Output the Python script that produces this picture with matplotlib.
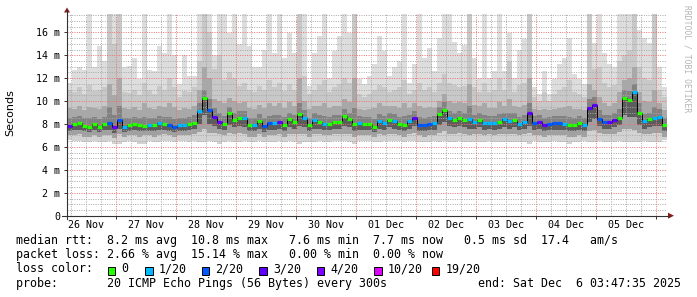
import numpy as np
import matplotlib
matplotlib.use("Agg")
import matplotlib.pyplot as plt
import matplotlib.transforms as mtransforms
from matplotlib.ticker import MultipleLocator, FuncFormatter, NullFormatter
from matplotlib.patches import Rectangle, Polygon
from matplotlib.lines import Line2D

plt.rcParams['font.family'] = ['DejaVu Sans Mono']

############################### Data (ms) #####################################

# 120 columns of 2 hours, first one starting 26 Nov 04:30
col_start, col_hours = 4.5, 2.0

median = [7.83, 7.97, 8.06, 7.83, 7.74, 7.97, 7.74, 7.97, 8.12, 7.77, 8.35, 7.77,
          7.88, 8.03, 7.94, 7.83, 7.88, 7.88, 8.12, 8.03, 7.88, 7.77, 7.91, 7.91,
          7.97, 8.12, 9.10, 10.30, 9.20, 8.64, 8.17, 7.97, 8.99, 8.35, 8.49, 8.49,
          7.88, 7.88, 8.26, 7.83, 8.06, 8.12, 8.17, 7.94, 8.41, 8.17, 8.84, 8.55,
          7.88, 8.35, 8.17, 8.00, 8.00, 8.17, 8.17, 8.70, 8.41, 7.97, 8.06, 7.97,
          7.97, 7.77, 8.26, 8.06, 8.35, 8.26, 7.97, 7.94, 8.23, 8.49, 7.91, 7.88,
          7.97, 8.06, 8.84, 9.22, 8.49, 8.35, 8.49, 8.35, 8.41, 8.17, 8.35, 8.06,
          8.12, 8.06, 8.17, 8.41, 8.29, 8.35, 7.97, 8.17, 8.99, 8.06, 8.17, 7.91,
          8.00, 8.06, 8.06, 8.03, 7.94, 7.88, 8.06, 7.88, 9.42, 9.68, 8.41, 8.17,
          8.17, 8.35, 8.52, 10.26, 10.09, 10.78, 8.99, 8.26, 8.41, 8.55, 8.64, 7.88]

# index into loss_labels
loss = [3, 0, 0, 0, 0, 0, 0, 0, 2, 3, 2, 1,
        0, 0, 0, 0, 1, 0, 1, 0, 2, 2, 1, 1,
        0, 0, 1, 0, 2, 3, 3, 0, 0, 0, 0, 1,
        0, 1, 0, 2, 2, 1, 3, 0, 0, 0, 0, 1,
        0, 1, 0, 1, 0, 0, 0, 0, 0, 0, 1, 0,
        0, 0, 1, 1, 0, 1, 0, 0, 1, 3, 2, 2,
        2, 1, 0, 0, 1, 0, 0, 0, 1, 1, 0, 1,
        1, 1, 0, 1, 1, 0, 1, 1, 3, 2, 3, 3,
        2, 2, 2, 1, 0, 0, 0, 1, 3, 3, 2, 2,
        3, 3, 0, 0, 0, 1, 0, 1, 0, 1, 1, 0]

ping_max = [11.6, 12.75, 13.0, 12.75, 17.6, 13.0, 14.8, 13.5, 17.6, 17.6, 17.6, 13.0,
            13.1, 13.8, 11.9, 17.6, 12.75, 12.6, 14.8, 14.2, 17.6, 14.0, 11.45, 14.0,
            12.2, 12.2, 17.6, 17.6, 17.6, 14.0, 17.6, 17.6, 15.9, 17.6, 15.0, 17.6,
            14.8, 13.0, 13.0, 14.5, 17.6, 14.2, 17.6, 13.8, 15.9, 14.2, 17.6, 17.6,
            11.3, 14.2, 15.65, 17.6, 12.0, 14.35, 15.65, 17.6, 15.9, 17.6, 11.9, 11.45,
            12.2, 13.2, 15.65, 14.35, 12.2, 13.0, 13.5, 17.6, 11.6, 13.2, 17.6, 13.8,
            14.6, 12.6, 15.5, 17.6, 17.6, 15.2, 14.2, 14.9, 17.6, 13.8, 12.0, 17.6,
            12.0, 12.6, 17.6, 12.6, 15.9, 12.0, 14.5, 15.4, 17.6, 11.2, 10.6, 12.6,
            10.6, 11.9, 13.2, 13.8, 15.5, 12.4, 11.9, 11.45, 17.6, 15.1, 17.6, 14.2,
            13.2, 13.0, 17.6, 17.6, 17.6, 17.6, 16.2, 15.5, 15.1, 17.6, 13.0, 11.2]

ping_hi3 = [11.0, 10.8, 11.2, 10.6, 11.4, 10.9, 11.0, 11.2, 17.6, 15.0, 17.6, 10.8,
            10.7, 11.0, 10.5, 11.6, 11.0, 10.6, 11.3, 11.0, 12.0, 11.2, 10.4, 10.9,
            10.8, 11.2, 13.5, 17.6, 16.0, 12.8, 14.0, 11.8, 12.5, 12.0, 11.3, 11.6,
            11.0, 10.8, 11.3, 11.0, 11.8, 11.2, 11.6, 10.9, 11.5, 11.0, 17.6, 12.2,
            10.6, 11.0, 11.4, 11.8, 10.8, 11.2, 11.5, 12.0, 11.6, 17.6, 10.6, 10.4,
            10.6, 11.0, 11.4, 11.2, 10.8, 11.0, 11.2, 11.8, 10.6, 11.0, 11.6, 11.0,
            11.2, 10.8, 11.6, 12.4, 11.6, 11.4, 11.2, 11.3, 17.6, 11.2, 10.8, 11.6,
            10.8, 11.0, 12.0, 11.0, 13.5, 10.8, 11.4, 11.6, 17.6, 10.4, 10.0, 10.8,
            10.0, 10.6, 11.0, 11.2, 11.8, 10.8, 10.6, 10.4, 17.6, 12.8, 13.0, 11.6,
            11.2, 11.4, 13.5, 14.0, 14.5, 17.6, 13.0, 12.0, 11.8, 17.6, 11.0, 10.4]

ping_hi2 = [9.4, 9.3, 9.6, 9.2, 9.5, 9.4, 9.3, 9.6, 11.5, 10.5, 12.0, 9.4,
            9.3, 9.5, 9.2, 9.8, 9.4, 9.3, 9.6, 9.5, 9.8, 9.5, 9.2, 9.4,
            9.3, 9.6, 11.0, 13.0, 12.0, 10.2, 10.0, 9.8, 10.3, 10.0, 9.8, 9.9,
            9.4, 9.3, 9.7, 9.4, 9.8, 9.6, 9.8, 9.4, 9.9, 9.6, 12.0, 10.0,
            9.3, 9.6, 9.6, 9.8, 9.4, 9.6, 9.6, 10.2, 9.9, 12.0, 9.3, 9.2,
            9.3, 9.4, 9.8, 9.6, 9.6, 9.6, 9.4, 9.8, 9.4, 9.8, 9.6, 9.4,
            9.5, 9.4, 10.0, 10.6, 10.0, 9.8, 9.9, 9.8, 11.5, 9.7, 9.6, 9.8,
            9.4, 9.4, 9.9, 9.6, 10.2, 9.6, 9.5, 9.7, 12.0, 9.3, 9.2, 9.3,
            9.2, 9.3, 9.4, 9.5, 9.6, 9.3, 9.3, 9.2, 11.5, 11.0, 10.4, 9.8,
            9.6, 9.8, 10.8, 11.8, 12.0, 13.0, 10.8, 10.0, 9.9, 11.0, 9.8, 9.2]

ping_hi1 = [8.5, 8.6, 8.7, 8.5, 8.5, 8.6, 8.4, 8.6, 9.5, 8.8, 9.6, 8.5,
            8.5, 8.6, 8.5, 8.6, 8.5, 8.5, 8.7, 8.6, 8.6, 8.4, 8.5, 8.5,
            8.6, 8.8, 9.8, 11.0, 10.2, 9.4, 9.0, 8.7, 9.5, 9.0, 9.1, 9.1,
            8.5, 8.5, 8.9, 8.5, 8.7, 8.8, 8.8, 8.6, 9.0, 8.8, 9.8, 9.2,
            8.5, 9.0, 8.8, 8.7, 8.6, 8.8, 8.8, 9.3, 9.0, 9.4, 8.7, 8.6,
            8.6, 8.4, 8.9, 8.7, 9.0, 8.9, 8.6, 8.7, 8.8, 9.1, 8.6, 8.5,
            8.6, 8.7, 9.5, 9.9, 9.1, 9.0, 9.1, 9.0, 9.6, 8.8, 9.0, 8.8,
            8.7, 8.7, 8.9, 9.0, 9.0, 9.0, 8.6, 8.8, 9.8, 8.7, 8.8, 8.5,
            8.6, 8.7, 8.7, 8.7, 8.6, 8.5, 8.7, 8.5, 10.2, 10.4, 9.2, 8.8,
            8.8, 9.0, 9.3, 11.0, 10.9, 11.5, 9.8, 8.9, 9.0, 9.5, 9.3, 8.5]

ping_lo1 = [7.4, 7.5, 7.5, 7.4, 7.3, 7.5, 7.3, 7.5, 7.5, 7.2, 7.6, 7.3,
            7.4, 7.5, 7.4, 7.4, 7.4, 7.4, 7.5, 7.5, 7.4, 7.3, 7.4, 7.4,
            7.5, 7.6, 8.0, 8.8, 8.0, 7.8, 7.6, 7.5, 7.9, 7.7, 7.8, 7.7,
            7.4, 7.4, 7.6, 7.3, 7.5, 7.5, 7.6, 7.4, 7.7, 7.6, 7.8, 7.7,
            7.4, 7.6, 7.6, 7.5, 7.5, 7.6, 7.6, 7.8, 7.7, 7.4, 7.5, 7.5,
            7.5, 7.3, 7.6, 7.5, 7.7, 7.6, 7.5, 7.4, 7.6, 7.8, 7.4, 7.4,
            7.5, 7.5, 7.9, 8.2, 7.8, 7.7, 7.8, 7.7, 7.6, 7.6, 7.7, 7.5,
            7.6, 7.5, 7.6, 7.7, 7.6, 7.7, 7.5, 7.6, 7.8, 7.5, 7.6, 7.4,
            7.5, 7.5, 7.5, 7.5, 7.4, 7.4, 7.5, 7.4, 8.2, 8.4, 7.8, 7.6,
            7.6, 7.7, 7.9, 8.8, 8.6, 8.6, 7.9, 7.6, 7.7, 7.8, 7.8, 7.4]

ping_lo2 = [7.0, 7.0, 7.1, 6.9, 6.9, 7.0, 6.9, 7.0, 7.0, 6.8, 7.1, 6.9,
            7.0, 7.0, 6.9, 7.0, 7.0, 6.9, 7.0, 7.1, 7.0, 6.9, 7.0, 7.0,
            7.0, 7.1, 7.3, 7.6, 7.2, 7.2, 7.1, 7.0, 7.2, 7.1, 7.2, 7.1,
            6.9, 6.9, 7.1, 6.9, 7.0, 7.0, 7.1, 6.9, 7.1, 7.1, 7.1, 7.1,
            6.9, 7.1, 7.1, 7.0, 7.0, 7.1, 7.1, 7.1, 7.1, 6.9, 7.0, 7.0,
            7.0, 6.9, 7.1, 7.0, 7.1, 7.1, 7.0, 6.9, 7.1, 7.2, 7.0, 6.9,
            7.0, 7.0, 7.2, 7.4, 7.1, 7.1, 7.2, 7.1, 7.0, 7.1, 7.1, 7.0,
            7.1, 7.0, 7.1, 7.1, 7.1, 7.1, 7.0, 7.1, 7.2, 7.0, 7.0, 6.9,
            7.0, 7.0, 7.0, 7.0, 6.9, 6.9, 7.0, 6.9, 7.4, 7.5, 7.2, 7.1,
            7.1, 7.1, 7.3, 7.6, 7.6, 7.5, 7.2, 7.1, 7.1, 7.2, 7.2, 6.9]

ping_min = [6.6, 6.5, 6.5, 6.4, 6.4, 6.5, 6.4, 6.4, 6.5, 6.3, 6.3, 6.4,
            6.5, 6.4, 6.3, 6.3, 6.5, 6.4, 6.4, 6.5, 6.5, 6.4, 6.5, 6.5,
            6.4, 6.5, 6.4, 6.4, 6.5, 6.4, 6.3, 6.4, 6.5, 6.4, 6.4, 6.5,
            6.4, 6.4, 6.5, 6.4, 6.4, 6.4, 6.5, 6.4, 6.5, 6.4, 6.3, 6.4,
            6.4, 6.4, 6.5, 6.4, 6.4, 6.5, 6.5, 6.5, 6.4, 6.3, 6.5, 6.5,
            6.5, 6.4, 6.4, 6.5, 6.5, 6.5, 6.5, 6.4, 6.5, 6.5, 6.4, 6.4,
            6.4, 6.5, 6.4, 6.5, 6.4, 6.4, 6.5, 6.4, 6.4, 6.4, 6.4, 6.4,
            6.5, 6.4, 6.4, 6.4, 6.4, 6.4, 6.4, 6.4, 6.3, 6.5, 6.4, 6.4,
            6.4, 6.5, 6.4, 6.4, 6.3, 6.4, 6.4, 6.5, 6.4, 6.4, 6.5, 6.4,
            6.4, 6.4, 6.5, 6.4, 6.4, 6.4, 6.4, 6.5, 6.4, 6.4, 6.4, 6.6]

day_labels = ["26 Nov", "27 Nov", "28 Nov", "29 Nov", "30 Nov",
              "01 Dec", "02 Dec", "03 Dec", "04 Dec", "05 Dec"]

loss_labels = ["0", "1/20", "2/20", "3/20", "4/20", "10/20", "19/20"]
loss_colors = ["#26ff00", "#00b8ff", "#0059ff", "#5e00ff", "#7e00ff", "#dd00ff", "#ff0000"]

stats_rtt = "median rtt:  8.2 ms avg  10.8 ms max   7.6 ms min  7.7 ms now   0.5 ms sd  17.4   am/s"
stats_loss = "packet loss: 2.66 % avg  15.14 % max   0.00 % min  0.00 % now"
probe_txt = "probe:       20 ICMP Echo Pings (56 Bytes) every 300s"
end_txt = "end: Sat Dec  6 03:47:35 2025"

################################# Figure ######################################

W, H = 697, 297
fig = plt.figure(figsize=(W / 100, H / 100), dpi=100)
ax = fig.add_axes([67 / W, 1 - 215.7 / H, 600 / W, (215.7 - 14) / H])

n = len(median)
edges = col_start + col_hours * np.arange(n + 1)

# smoke, from the outside in
bands = [(ping_max, ping_hi3, '#dddddd'),
         (ping_hi3, ping_hi2, '#c8c8c8'),
         (ping_hi2, ping_hi1, '#a8a8a8'),
         (ping_hi1, median, '#828282'),
         (median, ping_lo1, '#5c5c5c'),
         (ping_lo1, ping_lo2, '#a0a0a0'),
         (ping_lo2, ping_min, '#d2d2d2')]
for upper, lower, c in bands:
    ax.stairs(upper, edges, baseline=lower, fill=True, color=c, lw=0, zorder=1)

ax.stairs(median, edges, baseline=None, color='black', lw=0.7, zorder=3.5)
ax.hlines(median, edges[:-1], edges[1:], colors=[loss_colors[c] for c in loss],
          lw=2.3, zorder=4)

ax.set_xlim(edges[0], edges[-1])
ax.set_ylim(0, 17.6)

ax.xaxis.set_major_locator(MultipleLocator(24))
ax.xaxis.set_minor_locator(MultipleLocator(6))
ax.xaxis.set_major_formatter(NullFormatter())
ax.yaxis.set_major_locator(MultipleLocator(2))
ax.yaxis.set_minor_locator(MultipleLocator(0.5))
ax.yaxis.set_major_formatter(FuncFormatter(lambda v, _: '0' if v == 0 else f'{v:.0f} m'))

ax.set_axisbelow(False)
ax.grid(which='minor', color='#a8a8a8', lw=0.7, ls=(0, (1, 1.4)))
ax.grid(which='major', color='#ee7070', lw=0.7, ls=(0, (1, 1.4)))

ax.tick_params(which='major', length=2.5, width=0.7, color='#333333',
               labelsize=7.2, pad=2.5)
ax.tick_params(which='minor', length=0)
for s in ax.spines.values():
    s.set_visible(False)

trans = mtransforms.blended_transform_factory(ax.transData, fig.transFigure)
for i, lab in enumerate(day_labels):
    ax.text(12 + 24 * i, 1 - 228.3 / H, lab, transform=trans, ha='center',
            va='baseline', fontsize=7.2)

# axis lines with arrows
fig.add_artist(Line2D([67 / W, 67 / W], [1 - 219 / H, 1 - 10 / H], color='#333333', lw=0.8))
fig.add_artist(Line2D([62 / W, 669 / W], [1 - 215.7 / H, 1 - 215.7 / H], color='#333333', lw=0.8))
fig.add_artist(Polygon([(64 / W, 1 - 12.5 / H), (70 / W, 1 - 12.5 / H), (67 / W, 1 - 7.5 / H)],
                       closed=True, color='#8b1a1a', lw=0))
fig.add_artist(Polygon([(668 / W, 1 - 212.7 / H), (668 / W, 1 - 218.7 / H), (674 / W, 1 - 215.7 / H)],
                       closed=True, color='#8b1a1a', lw=0))

fig.text(10 / W, 1 - 113 / H, 'Seconds', rotation=90, ha='center', va='center',
         fontsize=8, family='DejaVu Sans')
fig.text(686.5 / W, 1 - 59 / H, 'RRDTOOL / TOBI OETIKER', rotation=270,
         ha='center', va='center', fontsize=5.8, color='#b4b4b4')

################################# Legend ######################################

fs = 8.35
fig.text(15.5 / W, 1 - 244.3 / H, stats_rtt, fontsize=fs, va='baseline')
fig.text(15.5 / W, 1 - 258.3 / H, stats_loss, fontsize=fs, va='baseline')
fig.text(15.5 / W, 1 - 272.3 / H, "loss color:", fontsize=fs, va='baseline')
fig.text(15.5 / W, 1 - 286.7 / H, probe_txt, fontsize=fs, va='baseline')
fig.text(477.5 / W, 1 - 286.7 / H, end_txt, fontsize=fs, va='baseline')

box_x = [107.7, 145.0, 201.7, 259.3, 316.7, 374.0, 431.7]
for bx, lab, c in zip(box_x, loss_labels, loss_colors):
    fig.add_artist(Rectangle((bx / W, 1 - 274.5 / H), 7.5 / W, 7.5 / H,
                             facecolor=c, edgecolor='black', lw=0.7))
    fig.text((bx + 13.5) / W, 1 - 272.3 / H, lab, fontsize=fs, va='baseline')

fig.savefig('out.png', dpi=100)
